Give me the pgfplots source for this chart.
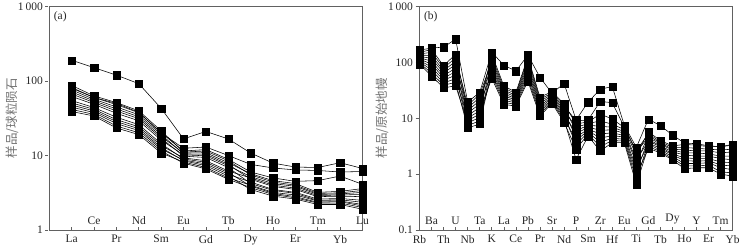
\documentclass[border=0pt]{standalone}
\usepackage{fontspec}
\setmainfont{Liberation Serif}
\newfontfamily\cjk{Noto Sans CJK SC}
\usepackage{pgfplots}
\usepackage{pgfplotstable}
\pgfplotsset{compat=1.18}

% Chondrite-normalised REE (panel a)
\pgfplotstableread{
x  s1   s2   c1   c2   c3   c4   c5   c6   c7   c8   c9   c10  c11  c12
0  190  80   87.1 81.7 75.9 71.2 66.8 62.1 54.6 50.8 47.6 44.6 41.5 38.9
1  151  60   63.1 60.0 56.8 54.0 51.4 48.6 44.0 41.6 39.6 37.7 35.6 33.9
2  120  50   51.3 48.2 44.9 42.2 39.6 36.9 32.6 30.3 28.5 26.8 24.9 23.4
3  92   38   39.8 37.5 35.2 33.1 31.2 29.2 25.9 24.3 22.9 21.6 20.2 19.1
4  43   20   21.4 20.2 19.1 18.0 17.1 16.1 14.4 13.6 12.8 12.2 11.5 10.8
5  16.7 12.5 11.1 11.5 10.5 10.8 9.8  10.2 9.0  9.3  8.5  8.7  7.9  8.2
6  21   13   11.5 12.0 10.4 10.9 9.4  9.9  8.1  8.5  7.3  7.7  6.6  6.9
7  16.7 10   8.5  8.9  7.6  8.0  6.9  7.3  5.9  6.2  5.3  5.6  4.8  5.0
8  10.8 7.6  5.5  6.0  4.8  5.7  4.2  5.2  3.9  5.0  3.5  4.4  3.7  4.0
9  7.9  6.8  4.4  5.0  3.85 4.6  3.4  4.2  3.1  4.0  2.85 3.5  3.0  3.2
10 7.0  6.4  4.0  4.5  3.5  4.2  3.1  3.85 2.8  3.65 2.6  3.2  2.7  2.95
11 6.9  6.3  3.1  4.6  2.8  3.2  2.5  3.0  2.35 2.9  2.2  2.6  2.3  2.45
12 8.0  6.0  3.15 5.3  2.85 3.3  2.55 3.05 2.4  2.95 2.2  2.65 2.3  2.45
13 6.7  6.1  3.4  4.1  2.8  3.6  2.35 3.2  2.1  3.0  1.9  2.5  2.0  2.2
}\tabA

% Primitive-mantle-normalised trace elements (panel b)
\pgfplotstableread{
x  b1   c1   c2   c3   c4   c5   c6   c7   c8   c9   c10
0  166  150  142  135  128  121  115  109  103  98   93
1  180  170  151  133  118  105  93   82   73   64   57
2  188  87   79   71   65   58   53   48   43   39   35
3  260  140  121  105  91   79   68   59   51   44   38
4  19.5 13.8 17   11.2 15.3 9.1  12.5 7.4  10.1 6.7  8.2
5  29   20.6 27   15.6 23.6 11.9 17.9 9.0  13.6 7.9  10.4
6  152  125  101  140  81   113  65   90   52   72   58
7  89   35   29.5 38   25   32   21   27   17.7 23   19.3
8  70   27.3 24.1 29   21.3 25.6 18.8 22.6 16.5 20   17.6
9  135  117  92   125  73   104  58   82   46   65   51
10 54   21.8 18.3 23.7 15.5 20   13   16.8 11   14.2 12
11 28   28.4 25.5 30   22.8 26.9 20.5 24.1 18.5 21.6 19.5
12 42   16.6 14.1 18   12   15.3 10.2 13   8.5  11   9.3
13 9.3  9    6.9  7.9  5.3  6.0  4.0  4.6  2.8  3.4  1.84
14 19.5 9.3  8.0  8.6  6.9  7.5  6.0  6.4  5.2  5.6  4.8
15 33   20   9.0  11.9 6.1  7.2  4.4  5.2  3.1  3.7  2.6
16 37   19   7.8  9.7  6.2  6.9  4.9  5.5  4.0  4.4  3.65
17 7.5  7.0  6.3  6.8  5.4  5.8  4.6  4.9  3.9  4.2  3.65
18 3.0  2.6  2.2  2.5  1.6  1.8  1.1  1.3  0.8  0.95 0.66
19 9.6  5.3  5.7  4.6  4.9  3.9  4.2  3.4  3.6  2.9  3.1
20 7.4  3.8  4.0  3.4  3.6  3.1  3.2  2.7  2.9  2.4  2.55
21 5.0  3.0  3.2  2.7  2.8  2.3  2.5  2.05 2.2  1.8  1.9
22 3.6  3.0  3.4  2.4  2.7  1.95 2.2  1.55 1.75 1.25 1.4
23 3.5  2.9  3.3  2.4  2.6  1.9  2.1  1.55 1.7  1.3  1.4
24 3.2  2.8  3.1  2.3  2.6  1.9  2.1  1.6  1.75 1.3  1.45
25 3.1  2.7  3.1  2.1  2.4  1.65 1.9  1.3  1.45 1.0  1.1
26 3.4  2.8  3.3  2.1  2.5  1.6  1.8  1.2  1.4  0.92 1.05
}\tabB

\definecolor{axgray}{gray}{0.38}
\definecolor{labgray}{gray}{0.45}
\definecolor{txt}{gray}{0.15}

\pgfplotsset{
  spider/.style={
    scale only axis, width=313.2pt, height=223.5pt,
    anchor=south west, clip=false,
    axis line style={axgray, line width=0.8pt},
    tick style={axgray, line width=0.6pt},
    tick align=inside, xtick pos=bottom, ytick pos=left,
    major tick length=3pt, yminorticks=false, xminorticks=false,
    ytick style={xshift=-4pt},
    yticklabel style={xshift=-3pt},
    ticklabel style={font=\fontsize{11.5}{13}\selectfont, text=txt},
    xticklabel style={yshift=-1.5pt},
    extra x tick style={xticklabel style={anchor=south, yshift=3.5pt}},
    /pgf/number format/assume math mode=true,
  },
  spl/.style={black, solid, line width=0.55pt, mark=square*, mark size=3.6pt,
    mark options={solid, fill=black, draw=black, line width=0.2pt}},
}

\begin{document}
\begin{tikzpicture}
\useasboundingbox (0,0) rectangle (749pt,251pt);

\begin{axis}[ymode=log, spider, at={(49.3pt,21pt)},
  xmin=-1, xmax=13, ymin=1, ymax=1000,
  ytick={1,10,100,1000}, yticklabels={1,10,100,1\,000},
  xtick={0,2,...,12}, xticklabels={La,Pr,Sm,Gd,Dy,Er,Yb},
  extra x ticks={1,3,...,13}, extra x tick labels={Ce,Nd,Eu,Tb,Ho,Tm,Lu}]
\pgfplotsinvokeforeach{s1,s2,c1,c2,c3,c4,c5,c6,c7,c8,c9,c10,c11,c12}{
  \addplot[spl] table[x=x, y=#1] {\tabA};
}
\node[anchor=north west, font=\fontsize{11.5}{13}\selectfont, text=txt, xshift=1pt, yshift=-1pt] at (rel axis cs:0,1) {(a)};
\node[rotate=90, anchor=center, font=\fontsize{12.5}{14}\selectfont, text=labgray] at ([xshift=-37pt]axis description cs:0,0.5) {\cjk 样品/球粒陨石};
\end{axis}

\begin{axis}[ymode=log, spider, at={(419.5pt,21pt)},
  xmin=0, xmax=26, ymin=0.1, ymax=1000,
  ytick={0.1,1,10,100,1000}, yticklabels={0.1,1,10,100,1\,000},
  xtick={0,2,...,26}, xticklabels={Rb,Th,Nb,K,Ce,Pr,Nd,Sm,Hf,Ti,Tb,Ho,Er,Yb},
  extra x ticks={1,3,...,25}, extra x tick labels={Ba,U,Ta,La,Pb,Sr,P,Zr,Eu,Gd,Dy,Y,Tm}]
\pgfplotsinvokeforeach{b1,c1,c2,c3,c4,c5,c6,c7,c8,c9,c10}{
  \addplot[spl] table[x=x, y=#1] {\tabB};
}
\node[anchor=north west, font=\fontsize{11.5}{13}\selectfont, text=txt, xshift=1pt, yshift=-1pt] at (rel axis cs:0,1) {(b)};
\node[rotate=90, anchor=center, font=\fontsize{12.5}{14}\selectfont, text=labgray] at ([xshift=-37pt]axis description cs:0,0.5) {\cjk 样品/原始地幔};
\end{axis}
\end{tikzpicture}
\end{document}
